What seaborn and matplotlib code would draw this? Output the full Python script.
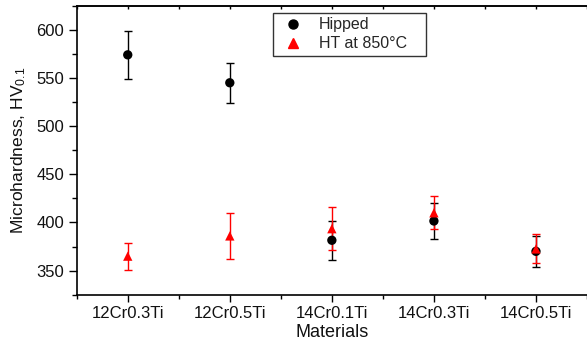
import numpy as np
import pandas as pd
import matplotlib
matplotlib.use("Agg")
import matplotlib.pyplot as plt
from matplotlib.ticker import MultipleLocator
from matplotlib.lines import Line2D
import seaborn as sns

materials = ["12Cr0.3Ti", "12Cr0.5Ti", "14Cr0.1Ti", "14Cr0.3Ti", "14Cr0.5Ti"]
hipped = [574, 545, 381.5, 401.5, 370]
hipped_err = [25, 21, 20.5, 18.5, 16]
ht850 = [365, 386, 393.5, 410, 372.5]
ht850_err = [14, 23.5, 22.5, 17, 15]

sns.set_theme(style="white")
plt.rcParams["font.family"] = ["Liberation Sans", "DejaVu Sans"]
plt.rcParams["mathtext.fontset"] = "custom"
plt.rcParams["mathtext.rm"] = "Liberation Sans"
plt.rcParams["mathtext.it"] = "Liberation Sans"

df = pd.DataFrame({
    "Materials": materials * 2,
    "value": hipped + ht850,
    "err": hipped_err + ht850_err,
    "series": ["Hipped"] * 5 + ["HT at 850\u00b0C"] * 5,
})

fig = plt.figure(figsize=(5.87, 3.48), dpi=100)
ax = fig.add_axes([0.1307, 0.1532, 0.8693, 0.8304])

pos = np.arange(len(materials))
ax.errorbar(pos, hipped, yerr=hipped_err, fmt="none", ecolor="black",
            elinewidth=1.0, capsize=3, capthick=1.0, zorder=2)
ax.errorbar(pos, ht850, yerr=ht850_err, fmt="none", ecolor="red",
            elinewidth=1.0, capsize=3, capthick=1.0, zorder=3)

sns.scatterplot(data=df, x="Materials", y="value", hue="series", style="series",
                palette={"Hipped": "black", "HT at 850\u00b0C": "red"},
                markers={"Hipped": "o", "HT at 850\u00b0C": "^"},
                s=45, edgecolor="none", ax=ax, legend=False, zorder=4)

ax.set_xlim(-0.5, 4.5)
ax.set_ylim(325, 625)
ax.set_xticks(pos)
ax.set_xticklabels(materials, fontsize=12)
ax.xaxis.set_minor_locator(MultipleLocator(0.5))
ax.yaxis.set_minor_locator(MultipleLocator(25))
ax.set_yticks([350, 400, 450, 500, 550, 600])
ax.tick_params(axis="y", which="major", direction="out", length=6, width=1,
               labelsize=12, left=True, color="black", labelcolor="#111111", pad=3)
ax.tick_params(axis="y", which="minor", direction="out", length=3.5, width=1, left=True, color="black")
ax.tick_params(axis="x", which="major", direction="out", length=5, width=1,
               labelsize=12, bottom=True, color="black", labelcolor="#111111")
ax.tick_params(axis="x", which="minor", direction="out", length=3, width=1, bottom=True, color="black")

for s in ["left", "bottom", "top"]:
    ax.spines[s].set_color("black")
    ax.spines[s].set_linewidth(1.2)
ax.spines["right"].set_visible(False)

sec = ax.secondary_xaxis("top")
sec.set_xticks(np.arange(-0.5, 5.0, 0.5))
sec.tick_params(direction="in", length=2, width=1, labeltop=False, color="black")
sec.spines["top"].set_linewidth(1.2)

ax.set_xlabel("Materials", fontsize=13, labelpad=2, color="#111111")
ax.set_ylabel("Microhardness, HV$_{0.1}$", fontsize=12.6, labelpad=6, color="#111111")

handles = [
    Line2D([], [], marker="o", color="black", linestyle="none", markersize=6.5),
    Line2D([], [], marker="^", color="red", linestyle="none", markersize=7.5),
]
leg = ax.legend(handles, ["Hipped", "HT at 850\u00b0C"], loc="upper left",
                bbox_to_anchor=(0.384, 0.5, 0.3014, 0.4758), mode="expand",
                frameon=True, fancybox=False,
                fontsize=11.5, borderpad=0.3, handlelength=2.0, handletextpad=0.6,
                labelspacing=0.25, borderaxespad=0)
leg.get_frame().set_edgecolor("black")
leg.get_frame().set_linewidth(1.0)

fig.savefig("out.png", dpi=100)
